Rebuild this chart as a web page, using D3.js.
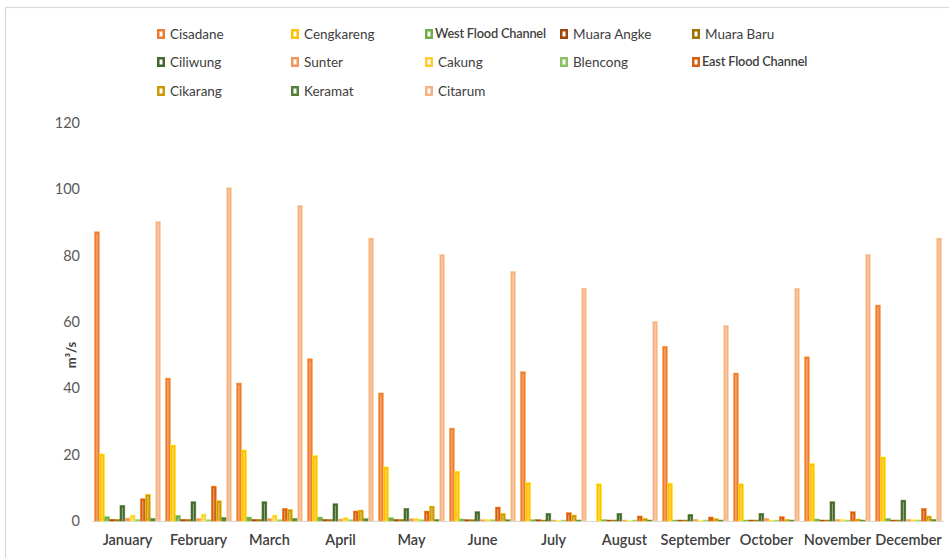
<!DOCTYPE html>
<html>
<head>
<meta charset="utf-8">
<script src="https://cdn.jsdelivr.net/npm/d3@7"></script>
<style>
  html, body { margin: 0; padding: 0; background: #ffffff; }
  svg { display: block; }
</style>
</head>
<body>
<svg id="chart" width="949" height="558"></svg>
<script>
// ---- data ----
const months = ["January","February","March","April","May","June","July","August","September","October","November","December"];
const seriesNames = ["Cisadane","Cengkareng","West Flood Channel","Muara Angke","Muara Baru","Ciliwung","Sunter","Cakung","Blencong","East Flood Channel","Cikarang","Keramat","Citarum"];
const yTicks = [0, 20, 40, 60, 80, 100, 120];

const cisadane        = [87.2, 43.1, 41.6, 48.9, 38.6, 28.0, 45.0, 0.0, 52.7, 44.6, 49.5, 65.1];
const cengkareng      = [20.2, 22.9, 21.4, 19.7, 16.3, 15.0, 11.6, 11.2, 11.4, 11.2, 17.3, 19.3];
const westFloodChannel= [1.3, 1.7, 1.2, 1.2, 1.0, 0.6, 0.4, 0.4, 0.3, 0.3, 0.6, 0.8];
const muaraAngke      = [0.5, 0.5, 0.5, 0.5, 0.5, 0.4, 0.4, 0.3, 0.3, 0.3, 0.3, 0.3];
const muaraBaru       = [0.5, 0.5, 0.5, 0.5, 0.5, 0.4, 0.3, 0.3, 0.3, 0.3, 0.3, 0.3];
const ciliwung        = [4.7, 5.8, 5.8, 5.2, 3.8, 2.8, 2.3, 2.3, 2.0, 2.3, 5.8, 6.3];
const sunter          = [0.9, 0.8, 0.8, 0.6, 0.7, 0.4, 0.3, 0.3, 0.5, 0.8, 0.5, 0.5];
const cakung          = [1.8, 2.1, 1.8, 1.1, 0.8, 0.5, 0.2, 0.2, 0.2, 0.3, 0.5, 0.4];
const blencong        = [0.5, 0.4, 0.4, 0.4, 0.4, 0.4, 0.3, 0.3, 0.3, 0.3, 0.3, 0.3];
const eastFloodChannel= [6.7, 10.5, 3.8, 3.0, 3.0, 4.2, 2.5, 1.5, 1.2, 1.3, 2.8, 3.8];
const cikarang        = [8.0, 6.1, 3.5, 3.3, 4.5, 2.3, 1.8, 0.8, 0.7, 0.5, 0.6, 1.5];
const keramat         = [0.8, 1.1, 0.8, 0.7, 0.5, 0.4, 0.3, 0.3, 0.3, 0.3, 0.3, 0.5];
const citarum         = [90.3, 100.5, 95.2, 85.3, 80.4, 75.3, 70.2, 60.2, 59.0, 70.2, 80.4, 85.3];

const seriesValues = [cisadane, cengkareng, westFloodChannel, muaraAngke, muaraBaru, ciliwung,
                      sunter, cakung, blencong, eastFloodChannel, cikarang, keramat, citarum];
const seriesColors = ["#ED7D31","#FFC000","#70AD47","#9E480E","#997300","#43682B",
                      "#F1975A","#FFCD33","#8CC168","#D2600F","#CC9A06","#548235","#F4B183"];

// ---- chart ----
const svg = d3.select("#chart");
const W = 949, H = 558;
const plot = { left: 92, right: 944, top: 123, bottom: 521 };

// outer chart border
svg.append("rect")
  .attr("x", 5.5).attr("y", 7.5)
  .attr("width", W + 10).attr("height", H - 4)
  .attr("fill", "#ffffff")
  .attr("stroke", "#d9d9d9").attr("stroke-width", 1.2);

const x0 = d3.scaleBand().domain(months).range([plot.left, plot.right])
  .paddingInner(0.07).paddingOuter(0.035);
const x1 = d3.scaleBand().domain(d3.range(seriesNames.length)).range([0, x0.bandwidth()]).paddingInner(0.04);
const y = d3.scaleLinear().domain([0, 120]).range([plot.bottom, plot.top]);

// baseline
svg.append("line")
  .attr("x1", plot.left).attr("x2", plot.right)
  .attr("y1", y(0) + 0.5).attr("y2", y(0) + 0.5)
  .attr("stroke", "#d9d9d9").attr("stroke-width", 1);

// bars
const groups = svg.append("g").selectAll("g")
  .data(months).join("g")
  .attr("transform", d => `translate(${x0(d)},0)`);

groups.each(function(m, mi) {
  const g = d3.select(this);
  const recs = seriesNames.map((s, si) => ({ si, v: seriesValues[si][mi] }));
  g.selectAll("rect.bar").data(recs).join("rect")
    .attr("class", "bar")
    .attr("x", d => x1(d.si))
    .attr("y", d => y(d.v))
    .attr("width", x1.bandwidth())
    .attr("height", d => Math.max(0, y(0) - y(d.v)))
    .attr("fill", d => seriesColors[d.si])
    .attr("stroke", d => d3.color(seriesColors[d.si]).brighter(0.6))
    .attr("stroke-width", 0.5);
  // inner light line
  g.selectAll("rect.inner").data(recs.filter(d => y(0) - y(d.v) > 4)).join("rect")
    .attr("class", "inner")
    .attr("x", d => x1(d.si) + x1.bandwidth() / 2 - 0.5)
    .attr("y", d => y(d.v) + 2)
    .attr("width", 1)
    .attr("height", d => Math.max(0, y(0) - y(d.v) - 2))
    .attr("fill", "#ffffff")
    .attr("opacity", 0.45);
});

// y axis
const yAxis = svg.append("g")
  .attr("transform", `translate(${plot.left - 12},0)`)
  .call(d3.axisLeft(y).tickValues(yTicks).tickSize(0).tickPadding(0));
yAxis.select(".domain").remove();
yAxis.selectAll("text")
  .attr("font-family", "Lato, 'Open Sans', sans-serif")
  .attr("font-size", 14.5)
  .attr("fill", "#595959");

// x axis
const xAxis = svg.append("g")
  .attr("transform", `translate(0,${plot.bottom})`)
  .call(d3.axisBottom(x0).tickSize(0).tickPadding(14));
xAxis.select(".domain").remove();
xAxis.selectAll("text")
  .attr("font-family", "Lato, 'Open Sans', sans-serif")
  .attr("font-size", 14.5)
  .attr("font-weight", 600)
  .attr("fill", "#404040");

// y title
svg.append("text")
  .attr("transform", `translate(76,355) rotate(-90)`)
  .attr("text-anchor", "middle")
  .attr("font-family", "Lato, 'Open Sans', sans-serif")
  .attr("font-size", 13)
  .attr("font-weight", 700)
  .attr("fill", "#404040")
  .text("m³/s");

// legend
const legendCols = [157, 291, 425, 560, 692];
const legendRows = [34, 62, 91];
const legend = svg.append("g");
seriesNames.forEach((name, i) => {
  const cx = legendCols[i % 5];
  const cy = legendRows[Math.floor(i / 5)];
  const lg = legend.append("g").attr("transform", `translate(${cx},${cy})`);
  lg.append("rect")
    .attr("x", 0).attr("y", -5)
    .attr("width", 8).attr("height", 10)
    .attr("fill", seriesColors[i]);
  lg.append("rect")
    .attr("x", 2.5).attr("y", -2.5)
    .attr("width", 3).attr("height", 5)
    .attr("fill", "#ffffff");
  const bold = (name === "West Flood Channel" || name === "East Flood Channel");
  lg.append("text")
    .attr("x", bold ? 10 : 13).attr("y", 0)
    .attr("dy", "0.35em")
    .attr("font-family", "Lato, 'Open Sans', sans-serif")
    .attr("font-size", bold ? 12.8 : 13.5)
    .attr("font-weight", bold ? 600 : 400)
    .attr("letter-spacing", bold ? -0.2 : 0)
    .attr("fill", "#404040")
    .text(name);
});
</script>
</body>
</html>
